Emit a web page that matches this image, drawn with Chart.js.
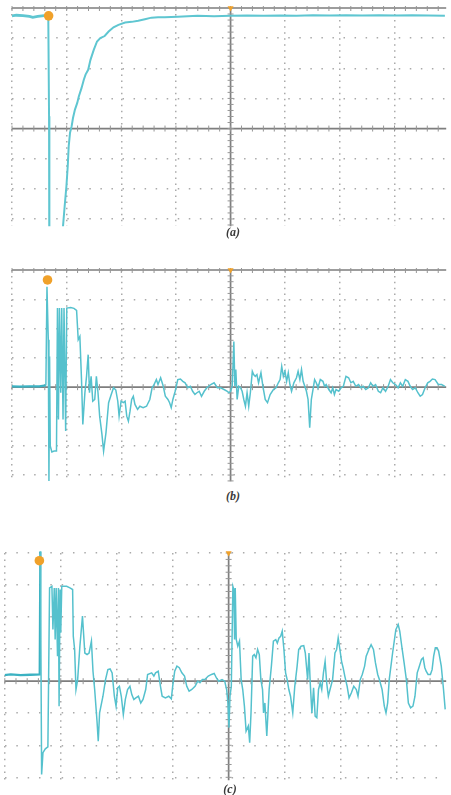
<!DOCTYPE html>
<html>
<head>
<meta charset="utf-8">
<script src="https://cdn.jsdelivr.net/npm/chart.js@4.4.1/dist/chart.umd.min.js"></script>
<style>
  html, body { margin: 0; padding: 0; background: #fff; }
  body { width: 451px; height: 795px; position: relative; overflow: hidden; }
  canvas { position: absolute; left: 0; filter: blur(0.35px); }
  .cap { position: absolute; left: 203px; width: 60px; text-align: center;
         font: italic bold 12px "Liberation Serif", serif; line-height: 12px; color: #3a3a3a; }
</style>
</head>
<body>
<canvas id="scopeA" width="451" height="231" style="top:0px"></canvas>
<canvas id="scopeB" width="451" height="224" style="top:262px"></canvas>
<canvas id="scopeC" width="451" height="240" style="top:545px"></canvas>
<div class="cap" style="top:226px">(a)</div>
<div class="cap" style="top:490px">(b)</div>
<div class="cap" style="top:783px;left:200px">(c)</div>
<script>
// time in us (50 us/div), amplitude in V (1 V/div)
const traceA = [
    [-200, 3.74], [-196, 3.76], [-190, 3.75], [-184, 3.72], [-181, 3.69], [-176.5, 3.72],
    [-170.5, 3.75], [-166.8, 3.74], [-166.1, 0.41], [-165.8, 0.30], [-165.8, -6], [-156, -6],
    [-155.1, -3.89], [-153.3, -3.23], [-151.8, -2.57], [-150.2, -1.91], [-149, -1.25],
    [-148.1, -0.58], [-146.9, -0.14], [-145.4, 0.08], [-144.2, 0.35], [-142.4, 0.63],
    [-140.3, 0.85], [-138.8, 1.07], [-136.4, 1.34], [-134.3, 1.62], [-132.7, 1.79],
    [-130.3, 1.95], [-128.2, 2.28], [-125.2, 2.61], [-122.2, 2.89], [-119.2, 3.00],
    [-115.2, 3.07], [-111.6, 3.22], [-107.1, 3.36], [-102.6, 3.44], [-96.5, 3.52],
    [-90.5, 3.54], [-84.5, 3.58], [-78.4, 3.63], [-72.4, 3.68], [-66.4, 3.69], [-60.3, 3.69],
    [-48.3, 3.71], [-30.2, 3.74], [-15.1, 3.73], [0, 3.74], [15.1, 3.75], [30.2, 3.74],
    [45.3, 3.75], [60.3, 3.74], [75.4, 3.76], [90.5, 3.75], [105.6, 3.76], [120.7, 3.75],
    [135.8, 3.76], [150.9, 3.75], [165.9, 3.76], [181, 3.75], [196.1, 3.74]
];

const traceB = [
    [-200.3, 0.03], [-193.1, 0.02], [-184, 0.03], [-175, 0.03], [-169, 0.06], [-168, 3.43],
    [-166.8, 1.62], [-166.2, -3.2], [-165.6, 1.05], [-165, -2.01], [-163.5, -2.21],
    [-161.4, -2.18], [-159.3, -2.18], [-158.4, 2.70], [-157.5, -1.10], [-156.6, 2.70],
    [-155.4, -0.19], [-154.5, 2.70], [-153.3, -1.10], [-152.4, 2.70], [-150.9, -1.50],
    [-149.9, 2.70], [-146.3, 2.72], [-143.3, 2.69], [-140.9, 2.62], [-139.4, 1.62],
    [-137.9, 1.73], [-136.4, 0.26], [-135.2, -1.27], [-133.3, -0.19], [-131.8, 0.37],
    [-130.3, 1.11], [-129.1, -0.19], [-127.6, 0.37], [-126.1, -0.48], [-124.3, -0.42],
    [-122.8, 0.37], [-121.3, -0.19], [-119.8, -0.99], [-117.7, -1.61], [-116.2, -2.18],
    [-114, -1.55], [-111.6, -0.53], [-109.2, -0.25], [-107.1, -0.02], [-105, -0.10],
    [-103.2, -0.48], [-102, -0.99], [-100.2, -0.48], [-98.1, -0.53], [-96.5, -0.48],
    [-95, -0.99], [-93.5, -1.16], [-92, -0.82], [-90.5, -0.42], [-89, -0.31], [-87.5, -0.59],
    [-85.1, -0.76], [-83, -0.65], [-80, -0.70], [-76.9, -0.65], [-73.9, -0.42], [-71.8, -0.02],
    [-70, 0.09], [-67.9, 0.26], [-66.4, 0.09], [-64, 0.32], [-61.8, 0.06], [-59.7, -0.31],
    [-57.3, -0.42], [-55.8, -0.53], [-54.3, -0.70], [-52.8, -0.42], [-50.7, -0.14],
    [-48.3, 0.26], [-45.9, 0.28], [-43.7, 0.20], [-41.6, 0.15], [-39.2, -0.02], [-36.8, 0.03],
    [-34.7, -0.14], [-32.6, -0.25], [-30.8, -0.19], [-28.7, -0.14], [-26.6, -0.31],
    [-24.1, -0.14], [-21.7, -0.02], [-18.1, 0.09], [-15.1, 0.15], [-12.1, -0.02],
    [-9.1, -0.02], [-6, -0.08], [-3, -0.14], [-1.5, -0.19], [0, -0.14], [1.5, 0.03],
    [3, 1.56], [3.9, 0.03], [4.8, 0.60], [6, -0.42], [7.5, 0.03], [9.1, -0.02], [10.6, -0.14],
    [12.1, -0.42], [13.6, -0.65], [15.1, -0.19], [16.6, -0.65], [18.1, -0.19], [19.9, 0.54],
    [21.1, 0.43], [22.6, 0.37], [24.1, 0.43], [25.6, 0.15], [27.8, 0.49], [29.6, 0.03],
    [31.7, -0.42], [33.8, -0.53], [36.2, -0.25], [39.2, -0.08], [41.6, -0.02], [43.7, 0.15],
    [45.3, 0.26], [46.8, 0.71], [48.3, 0.37], [49.8, 0.54], [51.3, 0.20], [52.8, 0.49],
    [54.3, 0.09], [55.8, -0.14], [57.9, 0.15], [60.3, 0.32], [61.8, 0.54], [63.4, 0.26],
    [64.9, 0.60], [66.4, 0.20], [67.9, 0.03], [69.4, -0.14], [70.9, -0.42], [72.4, -1.38],
    [73.9, -0.42], [75.4, -0.08], [76.9, 0.26], [78.4, 0.15], [80, -0.02], [82.1, 0.26],
    [84.5, 0.20], [86, 0.03], [87.5, 0.09], [89.9, -0.08], [92, -0.19], [93.5, -0.02],
    [95, -0.25], [96.5, -0.08], [99, -0.14], [101.1, -0.02], [103.2, 0.03], [105.6, 0.37],
    [108, 0.32], [110.1, 0.15], [112.2, 0.20], [114.6, 0.03], [117.1, 0.09], [119.2, -0.02],
    [121.3, 0.03], [123.7, -0.08], [126.1, -0.02], [128.2, 0.15], [130.3, 0.03], [132.7, 0.09],
    [135.2, -0.14], [137.3, -0.19], [139.4, -0.02], [141.8, -0.14], [144.2, 0.03],
    [146.3, 0.26], [148.4, 0.15], [150.9, 0.09], [153.3, -0.02], [155.4, 0.15], [157.5, 0.03],
    [159.9, 0.26], [162.3, 0.20], [164.4, 0.03], [166.5, -0.08], [169, -0.02], [171.4, -0.19],
    [173.5, -0.31], [175.6, -0.25], [178, -0.02], [180.4, 0.15], [182.5, 0.20], [184.7, 0.28],
    [187.1, 0.26], [190.1, 0.09], [193.1, 0.09], [196.1, 0.03]
];

const traceC = [
    [-200.6, 0.19], [-194.7, 0.21], [-185.9, 0.19], [-177, 0.20], [-168.8, 0.21],
    [-168.2, 4.05], [-167.1, -2.91], [-165.9, -2.23], [-163.8, -2.11], [-161.5, -2.05],
    [-160, 2.91], [-157.9, 2.96], [-157, 1.61], [-155.8, 2.91], [-155, 1.30], [-154.1, 2.91],
    [-152.9, 0.78], [-152.1, 2.91], [-151.5, -0.78], [-150.6, 2.86], [-150, 1.51],
    [-149.1, 2.96], [-144.7, 2.96], [-141.8, 2.91], [-139.4, 2.86], [-138.8, 1.40],
    [-137.6, 0.99], [-136.4, -0.26], [-134.9, 0.05], [-132.9, 1.09], [-130.6, 2.03],
    [-128.5, 0.88], [-126.5, 0.83], [-124.7, 0.88], [-122.6, 1.25], [-121.2, 0.31],
    [-119.7, -0.26], [-117.6, -1.25], [-116.5, -1.87], [-115.3, -0.99], [-112.3, -0.47],
    [-110, 0.05], [-107.9, 0.36], [-105.9, 0.38], [-104.1, 0.26], [-102.1, -0.47],
    [-100.6, -0.78], [-99.1, -0.21], [-97.6, -0.16], [-95.9, -0.47], [-94.1, -1.04],
    [-92.3, -0.57], [-90.3, -0.26], [-88.2, -0.16], [-86.5, -0.42], [-84.7, -0.57],
    [-82.9, -0.52], [-80.6, -0.47], [-78.5, -0.68], [-76.5, -0.57], [-74.1, -0.26],
    [-72.4, 0.21], [-68.8, 0.26], [-66.8, 0.16], [-65.3, 0.26], [-62.9, 0.31], [-60.9, -0.16],
    [-59.4, -0.47], [-56.5, -0.52], [-53.5, -0.47], [-51.2, -0.55], [-50, -0.16],
    [-48.2, 0.31], [-46.2, 0.47], [-44.1, 0.42], [-41.8, 0.26], [-39.4, 0.16], [-37.4, -0.16],
    [-35.3, -0.31], [-32.9, -0.26], [-30, -0.16], [-27.6, 0], [-25.6, -0.05], [-23.5, 0.05],
    [-21.2, 0.05], [-18.2, 0.16], [-15.3, 0.21], [-12.9, 0.24], [-10.9, 0.10], [-8.8, 0],
    [-5.9, 0.05], [-3.5, 0], [-1.8, -0.26], [-0.6, -0.68], [0.3, -1.45], [1.2, -0.47],
    [2.4, -0.16], [3.8, 2.96], [4.7, 2.86], [5.3, 1.30], [5.9, 2.91], [6.8, 1.30], [8.2, 1.09],
    [9.7, 1.25], [11.2, 0.05], [12.6, -0.26], [14.1, -0.78], [15.6, -1.56], [17.6, -1.40],
    [18.8, -1.92], [20, -0.99], [21.5, 0.78], [22.9, 0.83], [24.4, 0.73], [25.9, 0.99],
    [27.4, 0.83], [28.8, 0.05], [30.3, -0.26], [31.2, -0.99], [32.4, -0.68], [34.1, -1.71],
    [36.2, -0.26], [38.2, 0.47], [40, 1.25], [42.1, 1.30], [43.5, 1.19], [45, 1.35],
    [46.5, 1.40], [47.9, 1.56], [49.4, 0.99], [50.9, 0.26], [52.3, 0.05], [53.8, -0.26],
    [55.3, -0.47], [57.3, -0.99], [59.1, -0.16], [61.2, 0.47], [62.6, 0.99], [64.7, 1.09],
    [67.1, 1.11], [68.5, 0.88], [70.6, 0.05], [71.8, 0.88], [72.9, -0.05], [74.4, -0.99],
    [75.9, -0.21], [77.3, -1.09], [78.8, -1.14], [80.3, -0.26], [81.8, -0.05], [83.2, -0.26],
    [84.7, 0.26], [86.2, 0.62], [87.6, -0.05], [89.1, -0.47], [90.6, -0.26], [92.9, 0.05],
    [95, 0.88], [96.5, 0.99], [97.9, 1.35], [99.4, 0.99], [100.9, 0.62], [102.3, 0.42],
    [103.8, 0.16], [105.9, -0.16], [107.6, -0.52], [109.7, -0.36], [111.8, -0.16],
    [114.1, -0.26], [115.6, -0.47], [117.6, 0.05], [119.4, 0.21], [121.5, 0.47], [122.9, 0.78],
    [125.3, 0.99], [127.3, 1.14], [129.4, 0.99], [131.2, 0.57], [133.2, 0.21], [134.7, 0.05],
    [137.1, -0.26], [139.1, -0.78], [140.6, -0.99], [142.1, -0.68], [143.5, 0.05],
    [146.5, 0.88], [149.4, 1.61], [151.5, 1.77], [152.9, 1.56], [154.7, 1.09], [156.8, 0.57],
    [158.8, 0.05], [160.6, -0.68], [162.6, -0.83], [164.7, -0.78], [166.5, -0.47],
    [168.5, 0.26], [170, 0.42], [172.3, 0.68], [173.8, 0.73], [175.3, 0.42], [176.5, 0.31],
    [178.2, 0.21], [180.3, 0.21], [181.8, 0.36], [183.2, 0.78], [184.7, 1.04], [186.2, 1.04],
    [187.6, 0.94], [190, 0.47], [192, -0.26], [193.5, -0.88]
];

// trigger flag (T) and trigger position arrow at the top of each screen
const marksA = [[-166.5, 3.74], [0, 4]];
const marksB = [[-167.5, 3.66], [0, 4]];
const marksC = [[-169.1, 3.76], [0, 4]];

const gridTimes = [-200, -150, -100, -50, 0, 50, 100, 150];
const gridVolts = [-3, -2, -1, 0, 1, 2, 3, 4];

const scopeAxes = {
    id: 'scopeAxes',
    beforeDatasetsDraw(chart, args, opts) {
        const { ctx, chartArea: area, scales: { x, y } } = chart;
        const x0 = x.getPixelForValue(0);
        const y0 = y.getPixelForValue(0);
        const yt = y.getPixelForValue(4);
        ctx.save();
        ctx.strokeStyle = '#7e7e7e';
        ctx.lineWidth = 1.7;
        ctx.beginPath();
        ctx.moveTo(area.left, y0); ctx.lineTo(area.right, y0);
        ctx.moveTo(x0, area.top); ctx.lineTo(x0, area.bottom);
        if (opts.ruler) {
            ctx.moveTo(area.left, yt); ctx.lineTo(area.right, yt);
        }
        ctx.stroke();
        // minor ticks, 5 per division
        ctx.lineWidth = 1;
        ctx.strokeStyle = '#969696';
        ctx.beginPath();
        for (let i = -20; i <= 20; i++) {
            const px = x.getPixelForValue(i * 10);
            if (px < area.left || px > area.right) continue;
            ctx.moveTo(px, y0 - 3); ctx.lineTo(px, y0 + 3);
            if (opts.ruler) { ctx.moveTo(px, yt - 2); ctx.lineTo(px, yt + 3); }
        }
        for (let i = -20; i <= 20; i++) {
            const py = y.getPixelForValue(i * 0.2);
            if (py < area.top || py > area.bottom) continue;
            ctx.moveTo(x0 - 3, py); ctx.lineTo(x0 + 3, py);
        }
        ctx.stroke();
        ctx.restore();
    }
};

function makeScope(id, trace, marks, o) {
    return new Chart(id, {
        type: 'line',
        data: {
            datasets: [{
                data: marks.map(p => ({ x: p[0], y: p[1] })),
                showLine: false,
                pointStyle: ['circle', 'triangle'],
                rotation: [0, 180],
                pointRadius: [4.8, 3.5],
                pointBackgroundColor: '#f0a12a',
                pointBorderWidth: 0,
                clip: false
            }, {
                data: trace.map(p => ({ x: p[0], y: p[1] })),
                borderColor: o.color,
                borderWidth: o.width,
                pointRadius: 0,
                tension: 0,
                // the slow pre-trigger part of the trace shows heavier on screen
                segment: {
                    borderWidth: s => s.p1.parsed.x < -168 ? o.width + 0.8 : o.width,
                    borderColor: s => s.p1.parsed.x < -168 ? o.dark : o.color
                },
                clip: { left: 0, right: 0, top: o.clipTop, bottom: 0 }
            }]
        },
        options: {
            responsive: false,
            animation: false,
            devicePixelRatio: 1,
            layout: { padding: { left: o.left, right: 0, top: 8, bottom: 4 } },
            plugins: { legend: { display: false }, tooltip: { enabled: false }, scopeAxes: { ruler: o.ruler } },
            scales: {
                x: {
                    type: 'linear', min: -200, max: o.xMax,
                    afterBuildTicks: s => { s.ticks = gridTimes.map(v => ({ value: v })); },
                    ticks: { display: false },
                    grid: { drawTicks: false, lineWidth: 1.5,
                            color: c => (c.tick && c.tick.value === 0) ? 'rgba(0,0,0,0)' : '#aaaaaa' },
                    border: { display: false, dash: [1.5, o.dotY - 1.5] }
                },
                y: {
                    min: o.yMin, max: 4,
                    afterBuildTicks: s => { s.ticks = gridVolts.map(v => ({ value: v })); },
                    ticks: { display: false },
                    grid: { drawTicks: false, lineWidth: 1.5,
                            color: c => (c.tick && (c.tick.value === 0 || (o.ruler && c.tick.value === 4))) ? 'rgba(0,0,0,0)' : '#aaaaaa' },
                    border: { display: false, dash: [1.5, o.dotX - 1.5] }
                }
            }
        },
        plugins: [scopeAxes]
    });
}

makeScope('scopeA', traceA, marksA, { left: 12, xMax: 197.3, yMin: -3.24, ruler: true, color: '#5fc6d1', dark: '#5fc6d1', width: 2, dotX: 11.05, dotY: 6.05, clipTop: 0 });
makeScope('scopeB', traceB, marksB, { left: 12, xMax: 197.3, yMin: -3.21, ruler: true, color: '#55c1cd', dark: '#3cb2c2', width: 1.5, dotX: 11.07, dotY: 5.88, clipTop: 0 });
makeScope('scopeC', traceC, marksC, { left: 4, xMax: 194.4, yMin: -3.09, ruler: false, color: '#55c1cd', dark: '#3cb2c2', width: 1.5, dotX: 11.33, dotY: 6.43, clipTop: 4 });
</script>
</body>
</html>
